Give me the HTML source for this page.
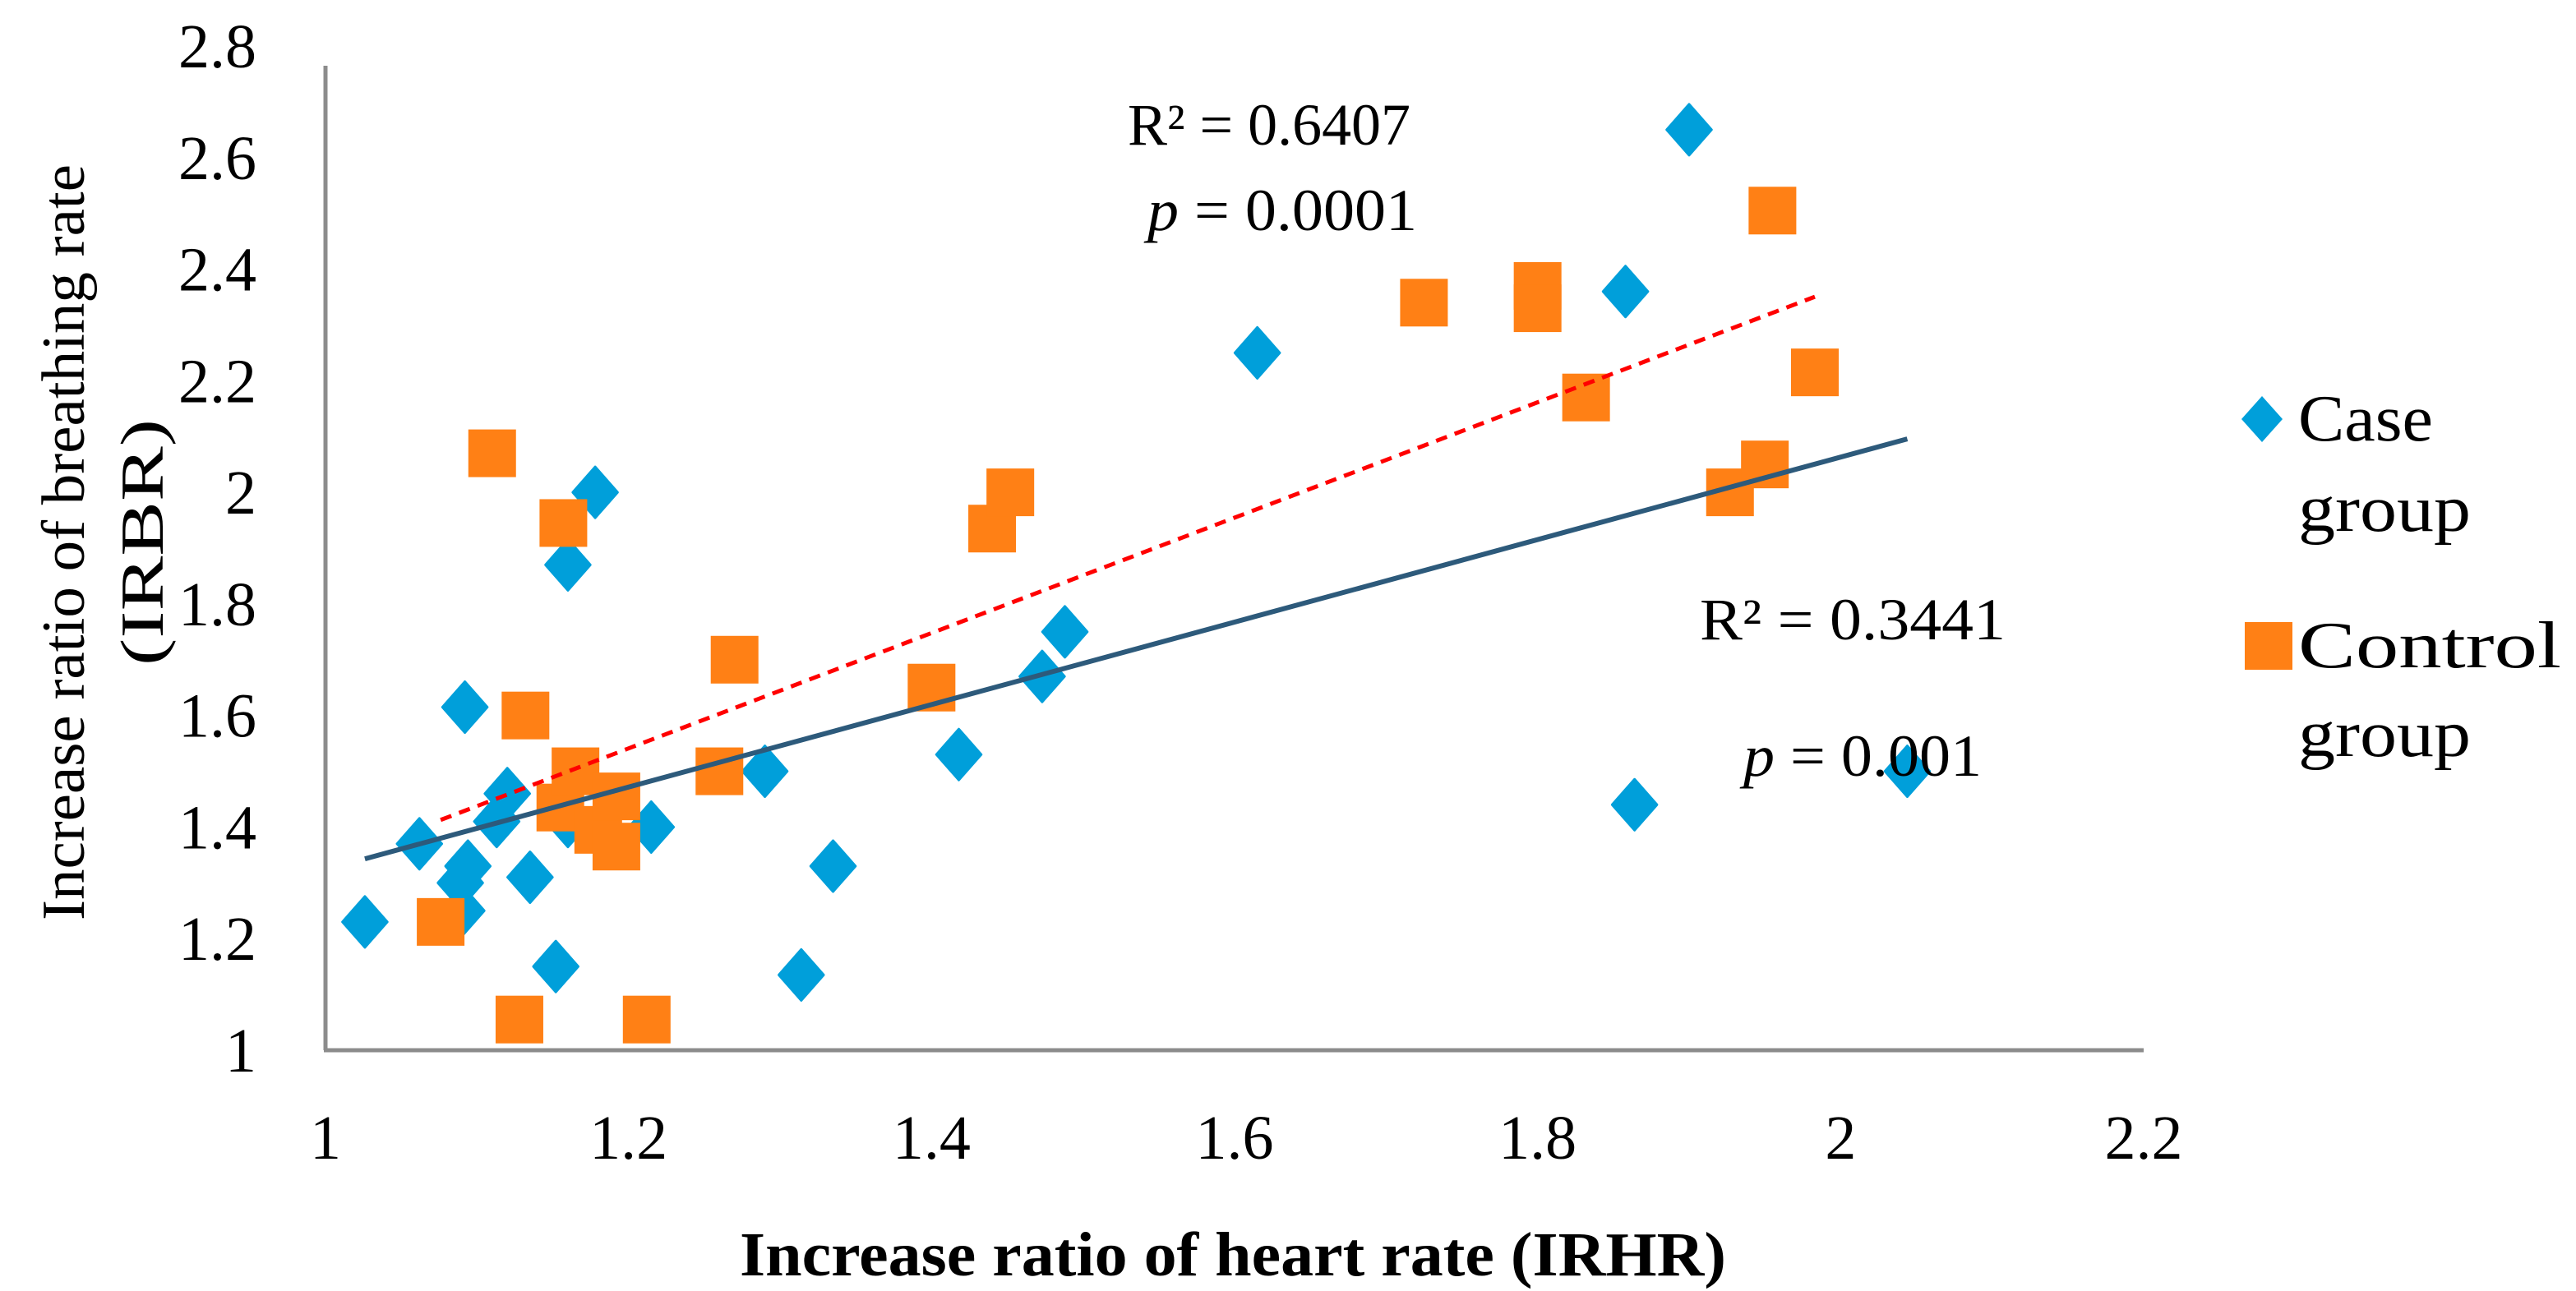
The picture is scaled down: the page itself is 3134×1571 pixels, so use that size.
<!DOCTYPE html>
<html><head><meta charset="utf-8"><style>
html,body{margin:0;padding:0;background:#fff;width:3134px;height:1571px;overflow:hidden}
svg text{font-family:"Liberation Serif",serif;fill:#000}
</style></head><body>
<svg id="chart" width="3134" height="1571" viewBox="0 0 3134 1571" xmlns="http://www.w3.org/2000/svg">
<g id="grid"></g>
<g id="marks"></g>
<g id="labels"></g>
</svg>
<script>
const caseX=[1.026,1.062,1.092,1.178,1.16,1.12,1.113,1.094,1.089,1.09,1.135,1.152,1.16,1.215,1.29,1.314,1.335,1.418,1.473,1.488,1.615,1.858,1.90,1.864,2.044];
const caseY=[1.23,1.37,1.615,2.0,1.87,1.46,1.41,1.33,1.30,1.25,1.31,1.15,1.41,1.40,1.50,1.135,1.33,1.53,1.67,1.75,2.25,2.36,2.65,1.44,1.50];
const ctrlX=[1.076,1.11,1.128,1.132,1.157,1.155,1.165,1.18,1.192,1.192,1.212,1.26,1.27,1.40,1.44,1.452,1.725,1.80,1.80,1.832,1.927,1.95,1.955,1.983];
const ctrlY=[1.23,2.07,1.055,1.60,1.945,1.435,1.50,1.395,1.455,1.365,1.055,1.50,1.70,1.65,1.935,2.0,2.34,2.37,2.33,2.17,2.0,2.05,2.505,2.215];
const xTicks=["1","1.2","1.4","1.6","1.8","2","2.2"];
const yTicks=["1","1.2","1.4","1.6","1.8","2","2.2","2.4","2.6","2.8"];
const caseStats=["R² = 0.3441","p = 0.001"];
const ctrlStats=["R² = 0.6407","p = 0.0001"];

const NS="http://www.w3.org/2000/svg";
const X0=396,X1=2608,Y0=1278,Y1=56;
function sx(v){return X0+(v-1)/1.2*(X1-X0);}
function sy(v){return Y0-(v-1)/1.8*(Y0-Y1);}
function mk(tag,attrs,parent){const e=document.createElementNS(NS,tag);for(const k in attrs)e.setAttribute(k,attrs[k]);parent.appendChild(e);return e;}
const grid=document.getElementById('grid'),marks=document.getElementById('marks'),labels=document.getElementById('labels');

let a=mk('line',{x1:X0,y1:80,x2:X0,y2:Y0,stroke:'#8c8c8c','stroke-width':5},grid);


a=mk('line',{x1:X0-2,y1:Y0,x2:X1,y2:Y0,stroke:'#8c8c8c','stroke-width':5},grid);



xTicks.forEach(t=>{const e=mk('text',{x:sx(+t),y:1410,'text-anchor':'middle','font-size':76},labels);e.textContent=t;

});
yTicks.forEach(t=>{const e=mk('text',{x:312,y:sy(+t)+26,'text-anchor':'end','font-size':76},labels);e.textContent=t;

});

function fit(xs,ys){const n=xs.length;let mx=0,my=0;for(let i=0;i<n;i++){mx+=xs[i];my+=ys[i];}mx/=n;my/=n;let sxy=0,sxx=0;for(let i=0;i<n;i++){sxy+=(xs[i]-mx)*(ys[i]-my);sxx+=(xs[i]-mx)**2;}const b=sxy/sxx;return [b,my-b*mx];}

caseX.forEach((v,i)=>{const cx=sx(v),cy=sy(caseY[i]),r=31;
const e=mk('polygon',{points:`${cx},${cy-r} ${cx+r*0.88},${cy} ${cx},${cy+r} ${cx-r*0.88},${cy}`,fill:'#009fda','stroke-linejoin':'round',stroke:'#009fda','stroke-width':3},marks);

});
ctrlX.forEach((v,i)=>{const cx=sx(v),cy=sy(ctrlY[i]);
const e=mk('rect',{x:cx-29,y:cy-29,width:58,height:58,fill:'#ff8015'},marks);

});

let f=fit(caseX,caseY),xa=Math.min(...caseX),xb=Math.max(...caseX);
a=mk('line',{x1:sx(xa),y1:sy(f[1]+f[0]*xa),x2:sx(xb),y2:sy(f[1]+f[0]*xb),stroke:'#2d5a7b','stroke-width':6},marks);


f=fit(ctrlX,ctrlY);xa=Math.min(...ctrlX);xb=Math.max(...ctrlX);
a=mk('line',{x1:sx(xa),y1:sy(f[1]+f[0]*xa),x2:sx(xb),y2:sy(f[1]+f[0]*xb),stroke:'#ff0000','stroke-width':5,'stroke-dasharray':'14 10'},marks);



function txt(s,x,y,size,name,extra){const e=mk('text',Object.assign({x:x,y:y,'text-anchor':'middle','font-size':size},extra||{}),labels);e.innerHTML=s;

return e;}
txt(ctrlStats[0],1544,176,72,'control-r2',{textLength:344,lengthAdjust:'spacingAndGlyphs'});
txt(ctrlStats[1].replace('p','<tspan font-style="italic">p</tspan>'),1560,280,72,'control-p-value',{textLength:328,lengthAdjust:'spacingAndGlyphs'});
txt(caseStats[0],2254,778,72,'case-r2',{textLength:372,lengthAdjust:'spacingAndGlyphs'});
txt(caseStats[1].replace('p','<tspan font-style="italic">p</tspan>'),2266,944,72,'case-p-value',{textLength:290,lengthAdjust:'spacingAndGlyphs'});

txt('Increase ratio of heart rate (IRHR)',1500,1552,76,'x-axis-title',{'font-weight':'bold',textLength:1200,lengthAdjust:'spacingAndGlyphs'});
const yt=mk('text',{transform:'translate(102,660) rotate(-90)','text-anchor':'middle','font-size':74,textLength:920,lengthAdjust:'spacingAndGlyphs'},labels);
yt.textContent='Increase ratio of breathing rate';


const yt2=mk('text',{transform:'translate(198,660) rotate(-90)','text-anchor':'middle','font-size':74,textLength:300,lengthAdjust:'spacingAndGlyphs'},labels);
yt2.textContent='(IRBR)';



let lg=mk('polygon',{points:'2752,482 2777,510 2752,538 2727,510',fill:'#009fda'},labels);


txt('Case',2796,536,80,'legend-case-label',{'text-anchor':'start',textLength:164,lengthAdjust:'spacingAndGlyphs'});
txt('group',2796,646,80,'legend-case-label-2',{'text-anchor':'start',textLength:210,lengthAdjust:'spacingAndGlyphs'});
lg=mk('rect',{x:2731,y:757,width:58,height:58,fill:'#ff8015'},labels);


txt('Control',2796,812,80,'legend-control-label',{'text-anchor':'start',textLength:320,lengthAdjust:'spacingAndGlyphs'});
txt('group',2796,920,80,'legend-control-label-2',{'text-anchor':'start',textLength:210,lengthAdjust:'spacingAndGlyphs'});
</script>
</body></html>
